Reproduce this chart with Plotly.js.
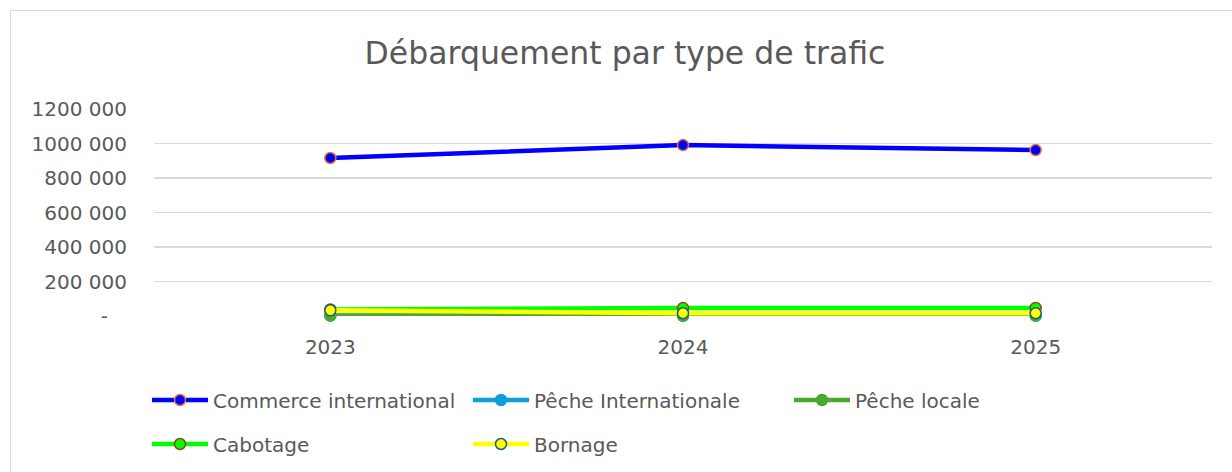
<!DOCTYPE html>
<html>
<head>
<meta charset="utf-8">
<script src="https://cdn.plot.ly/plotly-3.0.1.min.js"></script>
<style>
html,body{margin:0;padding:0;background:#fff;}
#wrap{position:relative;width:1232px;height:472px;overflow:hidden;}
#frame{position:absolute;left:10px;top:10px;width:1400px;height:600px;border-left:1.5px solid #d9d9d9;border-top:1.5px solid #d9d9d9;}
#chart{position:absolute;left:0;top:0;width:1232px;height:472px;}
</style>
</head>
<body>
<div id="wrap"><div id="frame"></div><div id="chart"></div></div>
<script>
const years = ["2023", "2024", "2025"];
const commerceInternational = [916000, 991000, 962000];
const pecheInternationale = [2000, 1000, 1000];
const pecheLocale = [3000, 2000, 2000];
const cabotage = [38000, 46000, 47000];
const bornage = [33000, 16000, 16000];
const yTickVals = [0, 200000, 400000, 600000, 800000, 1000000, 1200000];
const yTickText = ["-\u00a0\u00a0\u00a0", "200 000", "400 000", "600 000", "800 000", "1000 000", "1200 000"];

const FONT = "DejaVu Sans, sans-serif";
const GREY = "#595959";

function tr(name, y, lineColor, width, mFill, mLine, legend) {
  return {
    type: "scatter", mode: "lines+markers", name: name, x: years, y: y,
    line: {color: lineColor, width: width},
    marker: {size: 11, color: mFill, line: {color: mLine, width: 1.5}},
    cliponaxis: false, legend: legend
  };
}

const data = [
  tr("Commerce international", commerceInternational, "#0000FF", 4.5, "#0000FF", "#E97132", "legend"),
  tr("Pêche Internationale", pecheInternationale, "#0F9ED5", 4.5, "#0F9ED5", "#0F9ED5", "legend"),
  tr("Pêche locale", pecheLocale, "#4EA72E", 4.5, "#4EA72E", "#4EA72E", "legend"),
  tr("Cabotage", cabotage, "#00FF00", 4.5, "#00FF00", "#A0401A", "legend2"),
  tr("Bornage", bornage, "#FFFF00", 4.5, "#FFFF00", "#156082", "legend2")
];

const legendCommon = {
  orientation: "h", xref: "container", yref: "container",
  x: 147/1232, xanchor: "left", yanchor: "middle",
  entrywidth: 250, entrywidthmode: "pixels", itemwidth: 56,
  font: {family: FONT, size: 20, color: GREY},
  bgcolor: "rgba(0,0,0,0)", traceorder: "normal"
};

const layout = {
  width: 1232, height: 472,
  margin: {l: 154, r: 20, t: 109, b: 156},
  paper_bgcolor: "rgba(0,0,0,0)", plot_bgcolor: "rgba(0,0,0,0)",
  title: {text: "Débarquement par type de trafic", x: 625/1232, xanchor: "center", y: 1 - 53/472, yanchor: "middle",
          font: {family: FONT, size: 31.5, color: GREY}},
  font: {family: FONT, color: GREY},
  xaxis: {type: "category", range: [-0.5, 2.5], showgrid: false, zeroline: false, showline: false,
          ticks: "", ticklabelstandoff: 17, tickfont: {family: FONT, size: 20, color: GREY}, fixedrange: true},
  yaxis: {range: [0, 1200000], tickvals: yTickVals, ticktext: yTickText, showgrid: true, gridcolor: "#d9d9d9", gridwidth: 1.5,
          zeroline: false, showline: false, ticks: "", ticklabelstandoff: 26,
          tickfont: {family: FONT, size: 20, color: GREY}, fixedrange: true},
  showlegend: true,
  legend: Object.assign({}, legendCommon, {y: 1 - 400/472}),
  legend2: Object.assign({}, legendCommon, {y: 1 - 444/472})
};

Plotly.newPlot("chart", data, layout, {displayModeBar: false, staticPlot: true});
</script>
</body>
</html>
